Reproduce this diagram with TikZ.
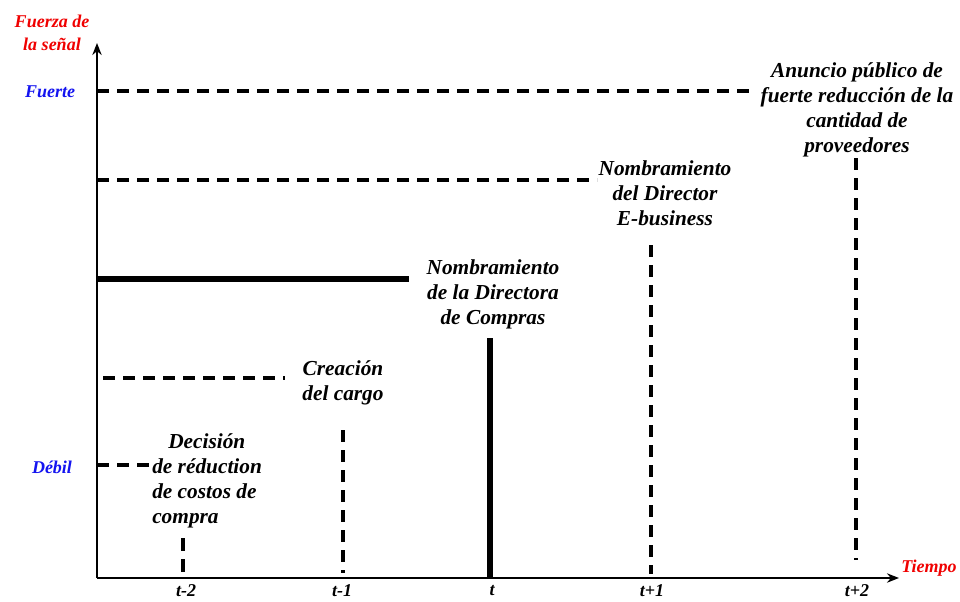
\documentclass[tikz,border=0pt]{standalone}
\usepackage{fontspec}
\setmainfont{Liberation Serif}
\usetikzlibrary{arrows.meta}
\definecolor{lred}{RGB}{240,0,0}
\definecolor{lblue}{RGB}{20,20,240}
\begin{document}
\begin{tikzpicture}[x=0.75pt,y=-0.75pt,
  lbl/.style={font=\fontsize{16}{18.75}\selectfont\bfseries\itshape,align=center,inner sep=0pt,anchor=north},
  axlbl/.style={font=\fontsize{13.5}{17}\selectfont\bfseries\itshape,inner sep=0pt},
  axis/.style={line width=2.2pt,-{Stealth[length=9pt,width=7pt]}},
  dline/.style={line width=2.3pt,dash pattern=on 9pt off 6pt},
  thick line/.style={line width=4.5pt}]
\useasboundingbox (0,0) rectangle (960,601);
\fill[white] (0,0) rectangle (960,601);
% axes
\coordinate (O) at (97,578);
\coordinate (Ytop) at (97,43);
\coordinate (Xend) at (899,578);
\draw[axis] (O) -- (Ytop);
\draw[axis] (O) -- (Xend);
% axis labels
\node[axlbl,text=lred,align=center] (fz) at (52,33) {Fuerza de\\la señal};
\node[axlbl,text=lblue] (fuerte) at (50,92) {Fuerte};
\node[axlbl,text=lblue] (debil) at (52,467) {Débil};
\node[axlbl,text=lred] (tiempo) at (929,568) {Tiempo};
\node[axlbl] (t2m) at (186,591) {t-2};
\node[axlbl] (t1m) at (342,591) {t-1};
\node[axlbl] (t0) at (492,591) {t};
\node[axlbl] (t1p) at (652,591) {t+1};
\node[axlbl] (t2p) at (857,591) {t+2};
% horizontal levels
\coordinate (h1a) at (97,91);  \coordinate (h1b) at (752,91);
\coordinate (h2a) at (97,180); \coordinate (h2b) at (597,180);
\coordinate (h3a) at (97,279); \coordinate (h3b) at (409,279);
\coordinate (h4a) at (103,378); \coordinate (h4b) at (285,378);
\coordinate (h5a) at (97,465); \coordinate (h5b) at (152,465);
\draw[dline] (h1a) -- (h1b);
\draw[dline] (h2a) -- (h2b);
\draw[thick line] (h3a) -- (h3b);
\draw[dline] (h4a) -- (h4b);
\draw[dline] (h5a) -- (h5b);
% vertical event lines
\coordinate (v1a) at (183,538); \coordinate (v1b) at (183,572);
\coordinate (v2a) at (343,430); \coordinate (v2b) at (343,573);
\coordinate (v3a) at (490,338); \coordinate (v3b) at (490,578);
\coordinate (v4a) at (651,245); \coordinate (v4b) at (651,574);
\coordinate (v5a) at (856,158); \coordinate (v5b) at (856,560);
\draw[line width=2.3pt,dash pattern=on 10pt off 6pt] (v1a) -- (v1b);
\draw[dline] (v2a) -- (v2b);
\draw[thick line] (v3a) -- (v3b);
\draw[dline] (v4a) -- (v4b);
\draw[dline] (v5a) -- (v5b);
% event labels
\node[lbl,align=left,anchor=north west] (e1) at (152,433) {\hspace*{12pt}Decisión\\de réduction\\de costos de\\compra};
\node[lbl] (e2) at (343,360) {Creación\\del cargo};
\node[lbl] (e3) at (493,259) {Nombramiento\\de la Directora\\de Compras};
\node[lbl] (e4) at (665,160) {Nombramiento\\del Director\\E-business};
\node[lbl] (e5) at (857,62) {Anuncio público de\\fuerte reducción de la\\cantidad de\\proveedores};
\end{tikzpicture}
\end{document}
